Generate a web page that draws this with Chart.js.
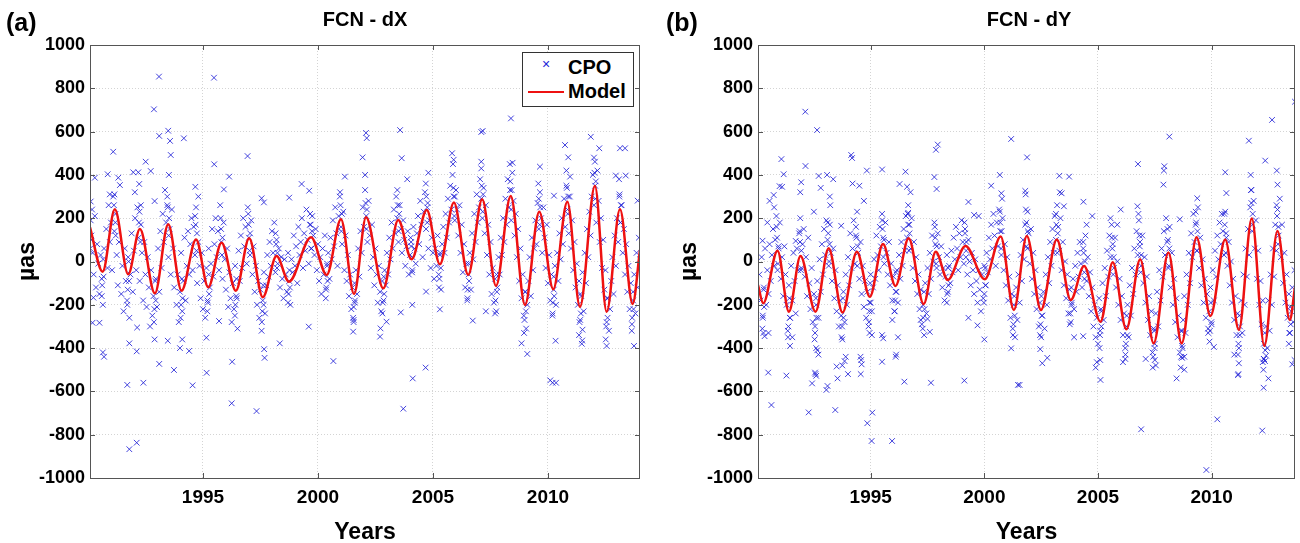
<!DOCTYPE html>
<html>
<head>
<meta charset="utf-8">
<script src="https://cdn.jsdelivr.net/npm/chart.js@4.4.1/dist/chart.umd.min.js"></script>
<style>
  body { margin: 0; background: #fff; width: 1300px; height: 543px; overflow: hidden; position: relative;
         font-family: "Liberation Sans", Arial, sans-serif; }
  canvas { position: absolute; top: 0; }
  .tag { position: absolute; top: 8px; font-weight: bold; font-size: 25px; }
  .title { position: absolute; top: 8px; font-weight: bold; font-size: 20px; transform: translateX(-50%); }
  .legend { position: absolute; left: 522px; top: 52px; width: 110px; height: 53px; border: 1px solid #333;
            background: #fff; font-weight: bold; font-size: 20px; }
  .legend div { position: absolute; left: 45px; }
  .mark { position: absolute; }
</style>
</head>
<body>
<canvas id="chartX" width="650" height="543" style="left:0"></canvas>
<canvas id="chartY" width="640" height="543" style="left:660px"></canvas>
<div class="tag" style="left:6px">(a)</div>
<div class="tag" style="left:666px">(b)</div>
<div class="title" style="left:365px">FCN - dX</div>
<div class="title" style="left:1029px">FCN - dY</div>
<div class="legend">
  <span class="mark" style="left:19px;top:3px;color:#2323d7;font-size:14px;font-weight:normal">&#215;</span>
  <div style="top:3px">CPO</div>
  <span class="mark" style="left:5px;top:38px;width:36px;border-top:2px solid #ee1111"></span>
  <div style="top:27px">Model</div>
</div>
<script>
// year ticks on the time axis
const yearTicks = [1995, 2000, 2005, 2010];

// FCN model, extremes [year, µas]
const dxModel = [
  [1990.09,158],[1990.64,-47],[1991.17,241],[1991.75,-59],[1992.26,150],[1992.91,-147],[1993.49,172],
  [1994.07,-135],[1994.70,102],[1995.23,-119],[1995.81,87],[1996.43,-135],[1997.01,107],[1997.60,-165],
  [1998.20,25],[1998.74,-93],[1999.70,112],[2000.38,-62],[2001.00,195],[2001.57,-150],[2002.09,204],
  [2002.84,-124],[2003.49,192],[2004.07,10],[2004.73,238],[2005.30,-13],[2005.91,272],[2006.53,-62],
  [2007.14,287],[2007.74,-113],[2008.38,303],[2009.00,-201],[2009.62,230],[2010.23,-128],[2010.84,276],
  [2011.39,-209],[2012.04,349],[2012.55,-232],[2013.13,241],[2013.68,-196],[2014.00,53]
];

// FCN model, extremes
const dyModel = [
  [1990.04,-109],[1990.27,-193],[1990.90,50],[1991.40,-232],[1991.91,25],[1992.57,-232],[1993.15,61],
  [1993.76,-236],[1994.39,45],[1994.96,-163],[1995.54,81],[1996.09,-113],[1996.67,107],[1997.33,-196],
  [1997.86,45],[1998.39,-85],[1999.17,72],[2000.02,-82],[2000.72,115],[2001.30,-224],[2001.87,118],
  [2002.49,-224],[2003.19,102],[2003.80,-178],[2004.39,-21],[2005.11,-278],[2005.65,-4],[2006.25,-313],
  [2006.86,10],[2007.45,-378],[2008.10,41],[2008.68,-378],[2009.34,112],[2009.95,-252],[2010.60,102],
  [2011.20,-316],[2011.77,199],[2012.32,-390],[2012.90,141],[2013.44,-270],[2013.67,-120]
];

const dxCpo = [
  [1990.15,120],[1990.2,40],[1990.25,-60],[1990.3,210],[1990.35,-120],[1990.4,80],[1990.45,-10],[1990.5,-150],[1990.55,30],[1990.6,-80],[1990.65,-200],[1990.7,60],
  [1990.8,150],[1990.85,-30],[1990.9,260],[1990.95,90],[1991.0,180],[1991.05,-40],[1991.1,300],[1991.15,140],[1991.2,220],[1991.25,30],[1991.3,-110],[1991.35,90],
  [1991.45,-150],[1991.5,-20],[1991.55,-230],[1991.6,60],[1991.65,-90],[1991.7,-180],[1991.75,20],[1991.8,-260],[1991.85,-60],[1991.9,130],[1991.95,-140],[1992.0,50],
  [1992.05,200],[1992.1,-40],[1992.15,250],[1992.2,110],[1992.25,-90],[1992.3,170],[1992.35,40],[1992.4,-180],[1992.45,90],[1992.5,-60],[1992.55,-210],[1992.6,20],
  [1992.65,-120],[1992.7,-300],[1992.75,-40],[1992.8,-250],[1992.85,-160],[1992.9,-360],[1992.95,-80],[1993.0,-210],[1993.05,60],[1993.1,-140],[1993.15,140],[1993.2,-30],
  [1993.25,220],[1993.3,90],[1993.35,330],[1993.4,180],[1993.45,260],[1993.5,20],[1993.52,400],[1993.55,150],[1993.6,-60],[1993.65,240],[1993.7,60],[1993.75,-120],
  [1993.85,-200],[1993.9,-60],[1993.95,-280],[1994.0,-140],[1994.05,40],[1994.1,-230],[1994.15,-90],[1994.2,110],[1994.25,-180],[1994.3,-20],[1994.35,140],[1994.4,-60],
  [1994.45,80],[1994.5,200],[1994.55,-40],[1994.6,160],[1994.65,30],[1994.7,250],[1994.75,-100],[1994.8,90],[1994.85,-20],[1994.9,-170],[1994.95,40],[1995.0,-220],
  [1995.05,-90],[1995.1,-260],[1995.15,-30],[1995.2,-180],[1995.25,60],[1995.3,-120],[1995.35,-10],[1995.4,150],[1995.45,-70],[1995.5,80],[1995.55,200],[1995.6,20],
  [1995.65,140],[1995.7,-40],[1995.75,260],[1995.8,90],[1995.85,-80],[1995.9,180],[1995.95,10],[1996.0,-130],[1996.05,60],[1996.1,-210],[1996.15,-50],[1996.2,-170],
  [1996.25,-280],[1996.3,-100],[1996.35,-220],[1996.4,-20],[1996.45,-160],[1996.5,-310],[1996.55,50],[1996.6,-90],[1996.65,120],[1996.7,-30],[1996.75,200],[1996.8,70],
  [1996.85,160],[1996.9,-10],[1996.95,250],[1997.0,110],[1997.05,30],[1997.1,190],[1997.15,-60],[1997.2,70],[1997.25,-140],[1997.3,-20],[1997.35,-200],[1997.4,-90],
  [1997.45,-260],[1997.5,-130],[1997.55,-320],[1997.6,-180],[1997.65,-50],[1997.7,-240],[1997.75,-110],[1997.8,30],[1997.85,-70],[1997.9,90],[1997.95,-20],[1998.0,140],
  [1998.05,40],[1998.1,180],[1998.15,-50],[1998.2,100],[1998.25,-10],[1998.3,60],[1998.35,-120],[1998.4,20],[1998.45,-80],[1998.5,-170],[1998.55,10],[1998.6,-60],
  [1998.65,-140],[1998.7,40],[1998.75,-90],[1998.8,-200],[1998.85,10],[1998.9,-50],[1998.95,120],[1999.0,-20],[1999.05,70],[1999.1,-100],[1999.15,160],[1999.2,30],
  [1999.25,90],[1999.3,200],[1999.35,-30],[1999.4,130],[1999.45,50],[1999.5,240],[1999.55,100],[1999.6,-10],[1999.65,170],[1999.7,60],[1999.75,210],[1999.8,120],
  [1999.85,30],[1999.9,150],[1999.95,-40],[2000.0,80],[2000.05,-90],[2000.1,20],[2000.15,-150],[2000.2,60],[2000.25,-60],[2000.3,120],[2000.35,-130],[2000.4,-20],
  [2000.45,40],[2000.5,-80],[2000.55,110],[2000.6,10],[2000.65,190],[2000.7,70],[2000.75,250],[2000.8,130],[2000.85,-20],[2000.9,210],[2000.95,300],[2001.0,160],
  [2001.05,80],[2001.1,230],[2001.15,-40],[2001.2,120],[2001.25,-90],[2001.3,30],[2001.35,-160],[2001.4,-60],[2001.45,-220],[2001.5,-120],[2001.55,-280],[2001.6,-190],
  [2001.65,-40],[2001.7,-150],[2001.75,60],[2001.8,-70],[2001.85,140],[2001.9,40],[2001.95,250],[2002.0,160],[2002.05,330],[2002.1,210],[2002.15,90],[2002.2,280],
  [2002.25,120],[2002.3,-30],[2002.35,170],[2002.4,20],[2002.45,-110],[2002.5,60],[2002.55,-60],[2002.6,-190],[2002.65,-20],[2002.7,-140],[2002.75,-230],[2002.8,-90],
  [2002.85,-180],[2002.9,-40],[2002.95,-110],[2003.0,40],[2003.05,-60],[2003.1,110],[2003.15,10],[2003.2,180],[2003.25,60],[2003.3,240],[2003.35,130],[2003.4,300],
  [2003.45,200],[2003.5,90],[2003.55,260],[2003.6,150],[2003.65,40],[2003.7,190],[2003.75,100],[2003.8,-20],[2003.85,70],[2003.9,140],[2003.95,-60],[2004.0,30],
  [2004.05,90],[2004.1,-40],[2004.15,160],[2004.2,60],[2004.25,-10],[2004.3,130],[2004.35,210],[2004.4,80],[2004.45,280],[2004.5,170],[2004.55,20],[2004.6,230],
  [2004.65,320],[2004.7,150],[2004.75,250],[2004.8,60],[2004.85,190],[2004.9,-30],[2004.95,110],[2005.0,40],[2005.05,-80],[2005.1,60],[2005.15,-20],[2005.2,120],
  [2005.25,-60],[2005.3,30],[2005.35,-130],[2005.4,80],[2005.45,160],[2005.5,40],[2005.55,220],[2005.6,110],[2005.65,290],[2005.7,180],[2005.75,350],[2005.8,240],
  [2005.85,400],[2005.9,300],[2005.95,190],[2006.0,330],[2006.05,240],[2006.1,120],[2006.15,260],[2006.2,40],[2006.25,170],[2006.3,-50],[2006.35,80],[2006.4,-120],
  [2006.45,-10],[2006.5,-170],[2006.55,-60],[2006.6,40],[2006.65,-130],[2006.7,130],[2006.75,10],[2006.8,220],[2006.85,90],[2006.9,310],[2006.95,180],[2007.0,250],
  [2007.05,380],[2007.1,290],[2007.15,200],[2007.2,340],[2007.25,130],[2007.3,260],[2007.35,30],[2007.4,170],[2007.45,-60],[2007.5,90],[2007.55,-150],[2007.6,-30],
  [2007.65,-190],[2007.7,-80],[2007.75,-230],[2007.8,-120],[2007.85,20],[2007.9,-60],[2007.95,110],[2008.0,30],[2008.05,200],[2008.1,90],[2008.15,290],[2008.2,170],
  [2008.25,380],[2008.3,250],[2008.35,330],[2008.4,190],[2008.45,410],[2008.5,280],[2008.55,120],[2008.6,220],[2008.65,20],[2008.7,150],[2008.75,-90],[2008.8,60],
  [2008.85,-170],[2008.9,-60],[2008.95,-250],[2009.0,-140],[2009.05,-310],[2009.1,-200],[2009.15,-90],[2009.2,20],[2009.25,-160],[2009.3,110],[2009.35,-40],[2009.4,60],
  [2009.45,190],[2009.5,80],[2009.55,270],[2009.6,150],[2009.65,320],[2009.7,200],[2009.75,40],[2009.8,250],[2009.85,110],[2009.9,-30],[2009.95,170],[2010.0,-100],
  [2010.05,30],[2010.1,-180],[2010.15,-60],[2010.2,-240],[2010.25,-130],[2010.3,-20],[2010.35,-200],[2010.4,40],[2010.45,-90],[2010.5,130],[2010.55,10],[2010.6,200],
  [2010.65,80],[2010.7,290],[2010.75,160],[2010.8,350],[2010.85,240],[2010.9,130],[2010.95,300],[2011.0,60],[2011.05,190],[2011.1,-40],[2011.15,90],[2011.2,-120],
  [2011.25,-10],[2011.3,-200],[2011.35,-90],[2011.4,-270],[2011.45,-160],[2011.5,-50],[2011.55,-230],[2011.6,40],[2011.65,-100],[2011.7,150],[2011.75,20],[2011.8,230],
  [2011.85,120],[2011.9,300],[2011.95,400],[2012.0,260],[2012.05,350],[2012.1,180],[2012.15,420],[2012.2,280],[2012.25,90],[2012.3,200],[2012.35,-30],[2012.4,100],
  [2012.45,-130],[2012.5,-40],[2012.55,-280],[2012.6,-170],[2012.65,-320],[2012.7,-220],[2012.75,-90],[2012.8,20],[2012.85,-150],[2012.9,120],[2012.95,-20],[2013.0,200],
  [2013.05,90],[2013.1,300],[2013.15,180],[2013.2,260],[2013.25,40],[2013.3,150],[2013.35,-60],[2013.4,80],[2013.45,-140],[2013.5,-20],[2013.55,-220],[2013.6,-100],
  [2013.65,-290],[2013.7,-180],[2013.75,-60],[2013.8,-240],[2013.85,40],[2013.9,-120],[2013.95,110],[2014.0,10],
  // scattered outliers
  [1993.09,854],[1995.48,849],[1992.87,703],[1993.1,580],[1993.49,604],[1993.57,557],[1993.6,492],[1994.17,569],
  [1991.1,507],[1992.51,461],[1992.73,418],[1991.97,412],[1992.19,412],[1990.86,403],[1990.3,387],[1991.32,387],
  [1995.49,449],[1996.94,487],[1996.14,392],[1995.91,333],[1994.67,345],[1999.29,358],[1999.62,327],[1998.75,295],
  [1997.55,292],[2001.17,392],[2001.94,481],[2002.09,594],[2002.12,570],[1991.39,353],[1992.04,320],[1992.23,358],
  [1990.95,310],[1990.12,277],[1992.9,279],[1994.8,300],[1997.65,273],
  [1991.8,-867],[1992.12,-837],[1991.71,-570],[1992.41,-560],[1993.1,-473],[1993.74,-501],[1994.55,-572],[1995.16,-514],
  [1996.25,-655],[1997.33,-691],[1996.27,-463],[1997.66,-405],[1997.68,-445],[1998.34,-378],[1999.6,-301],[2000.67,-460],
  [1990.65,-420],[1990.7,-440],[1991.8,-378],[1992.12,-415],[1992.14,-305],[1990.24,-167],[1990.2,-283],[1990.5,-283],
  [2001.53,-324],[2001.55,-270],[1993.47,-366],[1994.1,-360],[1994.4,-413],[1994.0,-400],[1995.15,-352],[1995.7,-275],
  [2003.71,-680],[2004.12,-540],[2004.68,-490],[2010.1,-549],[2010.2,-560],[2010.35,-560],[2009.1,-427],[2008.85,-378],
  [2010.33,-366],[2011.47,-380],[2011.49,-365],[2012.55,-390],[2013.74,-390],[2003.6,-235],[2004.1,-200],[2004.7,-139],
  [2005.3,-221],[2006.73,-273],[2007.3,-230],[2002.7,-347],[2002.72,-309],[2002.98,-278],[2011.5,-315],
  [2008.39,661],[2007.16,603],[2007.1,598],[2003.57,607],[2003.64,477],[2011.86,576],[2010.74,538],[2010.88,481],
  [2012.23,523],[2013.13,523],[2013.35,523],[2009.65,438],[2010.26,304],[2013.9,281],[2005.83,500],[2005.9,470],
  [2007.1,461],[2004.8,410],[2003.88,380],[2008.46,456],[2012.95,397],[2013.38,397],[2012.04,461],[2010.96,392]
];

// denser clusters of dX sessions around each swing
const dxCpoDense = [
  [1990.12,190],[1990.14,100],[1990.18,240],[1990.1,60],[1990.62,-110],[1990.66,10],[1990.6,-160],[1990.68,-70],
  [1991.15,310],[1991.19,180],[1991.13,260],[1991.21,120],[1991.73,-130],[1991.77,0],[1991.71,-200],[1991.79,-90],
  [1992.24,230],[1992.28,90],[1992.22,180],[1992.3,260],[1992.89,-220],[1992.93,-90],[1992.87,-280],[1992.95,-180],
  [1993.47,250],[1993.51,120],[1993.45,300],[1993.53,200],[1994.05,-200],[1994.09,-80],[1994.03,-260],[1994.11,-170],
  [1994.68,170],[1994.72,50],[1994.66,210],[1994.74,130],[1995.21,-190],[1995.25,-60],[1995.19,-230],[1995.27,-150],
  [1995.79,150],[1995.83,30],[1995.77,200],[1995.85,110],[1996.41,-200],[1996.45,-80],[1996.39,-250],[1996.47,-170],
  [1996.99,170],[1997.03,50],[1996.97,220],[1997.05,130],[1997.58,-230],[1997.62,-110],[1997.56,-280],[1997.64,-200],
  [1998.18,80],[1998.22,-30],[1998.16,130],[1998.24,40],[1998.72,-150],[1998.76,-40],[1998.7,-190],[1998.78,-120],
  [1999.68,170],[1999.72,60],[1999.66,220],[1999.74,140],[2000.36,-120],[2000.4,-10],[2000.34,-170],[2000.42,-90],
  [2000.98,260],[2001.02,140],[2000.96,320],[2001.04,220],[2001.55,-210],[2001.59,-100],[2001.53,-260],[2001.61,-180],
  [2002.07,270],[2002.11,150],[2002.05,400],[2002.13,240],[2002.82,-190],[2002.86,-70],[2002.8,-240],[2002.88,-150],
  [2003.47,260],[2003.51,140],[2003.45,330],[2003.53,220],[2004.05,70],[2004.09,-50],[2004.03,110],[2004.11,20],
  [2004.71,300],[2004.75,180],[2004.69,360],[2004.77,270],[2005.28,-80],[2005.32,40],[2005.26,-120],[2005.34,-30],
  [2005.89,340],[2005.93,210],[2005.87,450],[2005.95,300],[2006.51,-130],[2006.55,-10],[2006.49,-180],[2006.57,-90],
  [2007.12,350],[2007.16,230],[2007.1,430],[2007.18,310],[2007.72,-180],[2007.76,-60],[2007.7,-240],[2007.78,-140],
  [2008.36,370],[2008.4,240],[2008.34,450],[2008.42,330],[2008.98,-270],[2009.02,-140],[2008.96,-330],[2009.04,-230],
  [2009.6,290],[2009.64,170],[2009.58,360],[2009.66,250],[2010.21,-190],[2010.25,-70],[2010.19,-250],[2010.27,-160],
  [2010.82,340],[2010.86,220],[2010.8,420],[2010.88,300],[2011.37,-280],[2011.41,-150],[2011.35,-340],[2011.43,-240],
  [2012.02,410],[2012.06,290],[2012.0,480],[2012.08,370],[2012.53,-300],[2012.57,-170],[2012.51,-360],[2012.59,-260],
  [2013.11,310],[2013.15,180],[2013.09,380],[2013.17,260],[2013.66,-260],[2013.7,-140],[2013.64,-320],[2013.72,-220]
];

const dyCpo = [
  [1990.1,-60],[1990.15,-180],[1990.2,20],[1990.25,-250],[1990.3,-120],[1990.35,60],[1990.4,-200],[1990.45,-40],[1990.5,-150],[1990.55,80],[1990.6,-90],[1990.65,30],
  [1990.7,150],[1990.75,-20],[1990.8,100],[1990.85,210],[1990.9,-40],[1990.95,60],[1991.0,180],[1991.05,-80],[1991.1,20],[1991.15,-160],[1991.2,70],[1991.25,-60],
  [1991.3,-200],[1991.35,-320],[1991.4,-110],[1991.45,-260],[1991.5,-20],[1991.55,-180],[1991.6,40],[1991.65,-90],[1991.7,-240],[1991.75,60],[1991.8,-40],[1991.85,130],
  [1991.9,200],[1991.95,-30],[1992.0,80],[1992.05,150],[1992.1,-70],[1992.15,20],[1992.2,-160],[1992.25,110],[1992.3,-100],[1992.35,-220],[1992.4,-30],[1992.45,-280],
  [1992.5,-150],[1992.55,-330],[1992.6,-200],[1992.65,-90],[1992.7,-260],[1992.75,10],[1992.8,-140],[1992.85,80],[1992.9,-60],[1992.95,150],[1993.0,30],[1993.05,190],
  [1993.1,100],[1993.15,-20],[1993.2,170],[1993.25,40],[1993.3,-90],[1993.35,60],[1993.4,-170],[1993.45,-40],[1993.5,-230],[1993.55,-110],[1993.6,-300],[1993.65,-180],
  [1993.7,-250],[1993.75,-360],[1993.8,-140],[1993.85,-280],[1993.9,-60],[1993.95,-200],[1994.0,20],[1994.05,-110],[1994.1,130],[1994.15,-30],[1994.2,60],[1994.25,190],
  [1994.3,-10],[1994.35,120],[1994.4,230],[1994.45,40],[1994.5,-80],[1994.55,90],[1994.6,-150],[1994.65,-20],[1994.7,-210],[1994.75,-90],[1994.8,-260],[1994.85,-140],
  [1994.9,-300],[1994.95,-190],[1995.0,-60],[1995.05,-230],[1995.1,-120],[1995.15,10],[1995.2,-80],[1995.25,120],[1995.3,30],[1995.35,-40],[1995.4,160],[1995.45,70],
  [1995.5,220],[1995.55,110],[1995.6,-10],[1995.65,180],[1995.7,40],[1995.75,-60],[1995.8,90],[1995.85,-110],[1995.9,-10],[1995.95,-180],[1996.0,-70],[1996.05,-230],
  [1996.1,-140],[1996.15,-40],[1996.2,-190],[1996.25,30],[1996.3,-80],[1996.35,90],[1996.4,-20],[1996.45,150],[1996.5,50],[1996.55,210],[1996.6,110],[1996.65,260],
  [1996.7,170],[1996.75,60],[1996.8,200],[1996.85,-30],[1996.9,90],[1996.95,-90],[1997.0,20],[1997.05,-150],[1997.1,-60],[1997.15,-220],[1997.2,-130],[1997.25,-290],
  [1997.3,-200],[1997.35,-340],[1997.4,-100],[1997.45,-240],[1997.5,-30],[1997.55,-150],[1997.6,40],[1997.65,-80],[1997.7,120],[1997.75,0],[1997.8,180],[1997.85,80],
  [1997.9,-30],[1997.95,130],[1998.0,20],[1998.05,-60],[1998.1,70],[1998.15,-120],[1998.2,-30],[1998.25,-180],[1998.3,-70],[1998.35,30],[1998.4,-140],[1998.45,-20],
  [1998.5,-100],[1998.55,50],[1998.6,-50],[1998.65,110],[1998.7,10],[1998.75,160],[1998.8,60],[1998.85,-40],[1998.9,130],[1998.95,20],[1999.0,190],[1999.05,90],
  [1999.1,-10],[1999.15,150],[1999.2,50],[1999.25,-60],[1999.3,100],[1999.35,0],[1999.4,-110],[1999.45,40],[1999.5,-40],[1999.55,-150],[1999.6,10],[1999.65,-90],
  [1999.7,-190],[1999.75,-40],[1999.8,-130],[1999.85,-230],[1999.9,-60],[1999.95,-170],[2000.0,-20],[2000.05,-110],[2000.1,40],[2000.15,-50],[2000.2,110],[2000.25,10],
  [2000.3,170],[2000.35,60],[2000.4,220],[2000.45,120],[2000.5,-20],[2000.55,180],[2000.6,70],[2000.65,240],[2000.7,140],[2000.75,30],[2000.8,200],[2000.85,-40],
  [2000.9,80],[2000.95,-110],[2001.0,20],[2001.05,-180],[2001.1,-70],[2001.15,-260],[2001.2,-150],[2001.25,-310],[2001.3,-200],[2001.35,-350],[2001.4,-120],[2001.45,-270],
  [2001.5,-60],[2001.55,-190],[2001.6,30],[2001.65,-90],[2001.7,100],[2001.75,10],[2001.8,170],[2001.85,70],[2001.9,230],[2001.95,130],[2002.0,-10],[2002.05,150],
  [2002.1,-80],[2002.15,40],[2002.2,-150],[2002.25,-40],[2002.3,-220],[2002.35,-120],[2002.4,-300],[2002.45,-190],[2002.5,-350],[2002.55,-250],[2002.6,-140],[2002.65,-310],
  [2002.7,-60],[2002.75,-200],[2002.8,20],[2002.85,-100],[2002.9,90],[2002.95,-20],[2003.0,150],[2003.05,40],[2003.1,210],[2003.15,100],[2003.2,260],[2003.25,160],
  [2003.3,50],[2003.35,200],[2003.4,-40],[2003.45,90],[2003.5,-110],[2003.55,0],[2003.6,-170],[2003.65,-60],[2003.7,-240],[2003.75,-130],[2003.8,-280],[2003.85,-190],
  [2003.9,-80],[2003.95,-220],[2004.0,-20],[2004.05,-140],[2004.1,40],[2004.15,-70],[2004.2,90],[2004.25,-10],[2004.3,-120],[2004.35,60],[2004.4,-50],[2004.45,120],
  [2004.5,-90],[2004.55,20],[2004.6,-160],[2004.65,-50],[2004.7,-230],[2004.75,-120],[2004.8,-300],[2004.85,-200],[2004.9,-350],[2004.95,-260],[2005.0,-380],[2005.05,-170],
  [2005.1,-320],[2005.15,-230],[2005.2,-100],[2005.25,-270],[2005.3,-30],[2005.35,-160],[2005.4,50],[2005.45,-70],[2005.5,120],[2005.55,20],[2005.6,170],[2005.65,80],
  [2005.7,-30],[2005.75,110],[2005.8,-120],[2005.85,0],[2005.9,-200],[2005.95,-80],[2006.0,-270],[2006.05,-160],[2006.1,-340],[2006.15,-240],[2006.2,-400],[2006.25,-300],
  [2006.3,-200],[2006.35,-350],[2006.4,-110],[2006.45,-250],[2006.5,-30],[2006.55,-150],[2006.6,60],[2006.65,-60],[2006.7,140],[2006.75,30],[2006.8,190],[2006.85,90],
  [2006.9,-20],[2006.95,120],[2007.0,-100],[2007.05,20],[2007.1,-190],[2007.15,-70],[2007.2,-270],[2007.25,-160],[2007.3,-340],[2007.35,-230],[2007.4,-420],[2007.45,-310],
  [2007.5,-380],[2007.55,-240],[2007.6,-140],[2007.65,-300],[2007.7,-40],[2007.75,-180],[2007.8,60],[2007.85,-70],[2007.9,140],[2007.95,30],[2008.0,200],[2008.05,90],
  [2008.1,-30],[2008.15,160],[2008.2,-120],[2008.25,40],[2008.3,-200],[2008.35,-80],[2008.4,-280],[2008.45,-170],[2008.5,-350],[2008.55,-250],[2008.6,-420],[2008.65,-320],
  [2008.7,-390],[2008.75,-270],[2008.8,-160],[2008.85,-330],[2008.9,-60],[2008.95,-200],[2009.0,40],[2009.05,-100],[2009.1,130],[2009.15,20],[2009.2,220],[2009.25,90],
  [2009.3,170],[2009.35,50],[2009.4,250],[2009.45,-30],[2009.5,110],[2009.55,-110],[2009.6,10],[2009.65,-190],[2009.7,-80],[2009.75,-260],[2009.8,-150],[2009.85,-310],
  [2009.9,-230],[2009.95,-120],[2010.0,-290],[2010.05,-40],[2010.1,-180],[2010.15,50],[2010.2,-70],[2010.25,120],[2010.3,10],[2010.35,180],[2010.4,80],[2010.45,220],
  [2010.5,140],[2010.55,30],[2010.6,230],[2010.65,110],[2010.7,-20],[2010.75,90],[2010.8,-110],[2010.85,0],[2010.9,-190],[2010.95,-80],[2011.0,-270],[2011.05,-160],
  [2011.1,-340],[2011.15,-240],[2011.2,-400],[2011.25,-300],[2011.3,-180],[2011.35,-330],[2011.4,-60],[2011.45,-200],[2011.5,60],[2011.55,-70],[2011.6,150],[2011.65,30],
  [2011.7,250],[2011.75,330],[2011.8,170],[2011.85,280],[2011.9,60],[2011.95,190],[2012.0,-80],[2012.05,50],[2012.1,-200],[2012.15,-90],[2012.2,-290],[2012.25,-180],
  [2012.3,-380],[2012.35,-460],[2012.4,-300],[2012.45,-400],[2012.5,-180],[2012.55,-320],[2012.6,-60],[2012.65,-200],[2012.7,60],[2012.75,-70],[2012.8,170],[2012.85,50],
  [2012.9,240],[2012.95,120],[2013.0,290],[2013.05,20],[2013.1,170],[2013.15,-100],[2013.2,40],[2013.25,-190],[2013.3,-60],[2013.35,-260],[2013.4,-150],[2013.45,-330],
  [2013.5,-230],[2013.55,-120],[2013.6,-280],[2013.65,-40],[2013.7,-180],
  // scattered outliers
  [1992.12,692],[1992.64,607],[1991.07,473],[1991.17,403],[1990.99,348],[1991.1,345],[1990.73,307],[1990.75,250],
  [1990.55,280],[1992.13,441],[1991.94,366],[1991.9,320],[1992.71,395],[1992.8,340],[1993.08,400],[1993.35,380],
  [1993.2,300],[1993.22,260],[1994.14,492],[1994.18,478],[1994.2,360],[1994.5,350],[1994.83,420],[1994.7,280],
  [1995.5,425],[1996.27,358],[1996.53,415],[1996.6,345],[1996.75,320],[1997.87,516],[1997.95,540],[1997.8,390],
  [1997.9,335],[1999.3,275],[2001.18,566],[2000.68,400],[2000.75,315],[2000.78,290],[2000.3,350],[1999.55,215],
  [1999.75,210],[1990.24,96],[1990.45,180],[1991.7,95],[1992.5,230],[1993.7,165],[1996.65,225],
  [2001.88,481],[2001.8,326],[2001.82,310],[2003.3,396],[2003.73,392],[2003.4,315],[2003.5,255],[2004.36,276],
  [2006.76,450],[2006.74,255],[2006.78,220],[2008.14,577],[2007.9,420],[2007.92,440],[2007.88,355],[2008.6,195],
  [2009.37,292],[2010.6,412],[2010.65,316],[2011.64,558],[2012.66,654],[2012.36,466],[2012.87,420],[2012.9,355],
  [2011.72,400],[2013.67,738],[2004.5,170],[2004.75,210],[2005.55,200],[2005.85,170],[2006.0,240],[2003.32,320],
  [1995.04,-829],[1995.94,-829],[1994.85,-747],[1995.07,-698],[1990.63,-663],[1992.27,-697],[1993.44,-686],
  [1993.05,-593],[1993.1,-575],[1992.42,-563],[1992.55,-513],[1992.57,-520],[1992.6,-528],[1990.49,-513],
  [1991.29,-527],[1993.54,-540],[1994.0,-520],[1994.56,-520],[1993.5,-485],[1993.75,-480],[1993.85,-460],
  [1993.9,-440],[1994.55,-440],[1994.58,-455],[1994.6,-475],[1995.5,-463],[1996.1,-440],[1996.48,-555],
  [1997.65,-560],[1999.12,-550],[2000.0,-360],[1999.7,-295],[1999.3,-260],[1997.6,-325],[1997.2,-270],
  [1997.5,-265],[1995.95,-270],[1996.2,-350],[1996.12,-430],[1992.6,-400],[1992.65,-410],[1992.7,-430],
  [1991.45,-390],[1991.55,-350],[1990.28,-330],[1990.33,-345],[1990.5,-330],[2001.18,-401],[2001.48,-570],
  [1995.5,-340],[1995.55,-355],[1994.95,-330],[1995.05,-340],
  [2009.77,-963],[2006.9,-775],[2012.23,-781],[2010.25,-729],[2001.55,-570],[2005.11,-547],[2008.46,-540],
  [2012.29,-583],[2011.16,-525],[2011.18,-520],[2012.5,-540],[2008.8,-500],[2004.9,-490],[2004.95,-465],
  [2005.1,-455],[2006.1,-465],[2006.2,-450],[2007.55,-480],[2007.5,-455],[2007.1,-450],[2008.7,-445],
  [2008.8,-440],[2011.2,-470],[2011.0,-430],[2012.25,-465],[2012.3,-450],[2012.4,-435],[2013.55,-475],
  [2013.65,-455],[2002.55,-470],[2002.77,-445],[2002.46,-405],[2003.95,-350],[2004.35,-345],[2010.1,-395],[2009.85,-330]
];

// denser clusters of dY sessions around each swing
const dyCpoDense = [
  [1990.25,-260],[1990.29,-130],[1990.23,-310],[1990.31,-210],[1990.88,110],[1990.92,-10],[1990.86,160],[1990.94,70],
  [1991.38,-300],[1991.42,-170],[1991.36,-350],[1991.44,-260],[1991.89,90],[1991.93,-40],[1991.87,140],[1991.95,50],
  [1992.55,-300],[1992.59,-170],[1992.53,-360],[1992.61,-260],[1993.13,130],[1993.17,0],[1993.11,180],[1993.19,80],
  [1993.74,-300],[1993.78,-170],[1993.72,-350],[1993.8,-260],[1994.37,110],[1994.41,-20],[1994.35,160],[1994.43,70],
  [1994.94,-230],[1994.98,-100],[1994.92,-280],[1995.0,-190],[1995.52,150],[1995.56,20],[1995.5,190],[1995.58,100],
  [1996.07,-180],[1996.11,-50],[1996.05,-230],[1996.13,-140],[1996.65,170],[1996.69,50],[1996.63,220],[1996.71,130],
  [1997.31,-260],[1997.35,-140],[1997.29,-310],[1997.37,-220],[1997.84,110],[1997.88,-10],[1997.82,160],[1997.9,70],
  [1998.37,-150],[1998.41,-30],[1998.35,-190],[1998.43,-110],[1999.15,130],[1999.19,20],[1999.13,180],[1999.21,90],
  [2000.0,-150],[2000.04,-30],[1999.98,-190],[2000.06,-110],[2000.7,180],[2000.74,60],[2000.68,230],[2000.76,140],
  [2001.28,-290],[2001.32,-160],[2001.26,-340],[2001.34,-250],[2001.85,180],[2001.89,60],[2001.83,240],[2001.91,140],
  [2002.47,-290],[2002.51,-160],[2002.45,-340],[2002.53,-250],[2003.17,170],[2003.21,40],[2003.15,220],[2003.23,130],
  [2003.78,-240],[2003.82,-120],[2003.76,-290],[2003.84,-200],[2004.37,40],[2004.41,-80],[2004.35,90],[2004.43,0],
  [2005.09,-340],[2005.13,-220],[2005.07,-400],[2005.15,-300],[2005.63,60],[2005.67,-60],[2005.61,110],[2005.69,20],
  [2006.23,-380],[2006.27,-250],[2006.21,-430],[2006.29,-340],[2006.84,70],[2006.88,-50],[2006.82,120],[2006.9,30],
  [2007.43,-440],[2007.47,-320],[2007.41,-490],[2007.49,-400],[2008.08,100],[2008.12,-20],[2008.06,150],[2008.14,60],
  [2008.66,-440],[2008.7,-320],[2008.64,-490],[2008.72,-400],[2009.32,180],[2009.36,50],[2009.3,230],[2009.38,140],
  [2009.93,-320],[2009.97,-190],[2009.91,-370],[2009.99,-280],[2010.58,170],[2010.62,40],[2010.56,220],[2010.64,130],
  [2011.18,-380],[2011.22,-250],[2011.16,-430],[2011.24,-340],[2011.75,270],[2011.79,140],[2011.73,330],[2011.81,220],
  [2012.3,-450],[2012.34,-330],[2012.28,-500],[2012.36,-410],[2012.88,210],[2012.92,80],[2012.86,260],[2012.94,160],
  [2013.42,-330],[2013.46,-210],[2013.4,-380],[2013.48,-290]
];

const FONT = '"Liberation Sans", Arial, sans-serif';

// matlab-like box with inward tick marks
const boxPlugin = {
  id: 'box',
  afterDraw(chart) {
    const { ctx, chartArea: a, scales: { x, y } } = chart;
    ctx.save();
    ctx.strokeStyle = '#555';
    ctx.lineWidth = 1;
    ctx.strokeRect(a.left + 0.5, a.top + 0.5, a.right - a.left - 1, a.bottom - a.top);
    ctx.beginPath();
    x.ticks.forEach(t => {
      const px = Math.round(x.getPixelForValue(t.value)) + 0.5;
      ctx.moveTo(px, a.top); ctx.lineTo(px, a.top + 5);
      ctx.moveTo(px, a.bottom); ctx.lineTo(px, a.bottom - 5);
    });
    y.ticks.forEach(t => {
      const py = Math.round(y.getPixelForValue(t.value)) + 0.5;
      ctx.moveTo(a.left, py); ctx.lineTo(a.left + 5, py);
      ctx.moveTo(a.right, py); ctx.lineTo(a.right - 5, py);
    });
    ctx.stroke();
    ctx.restore();
  }
};

function toXY(list) {
  return list.map(p => ({ x: p[0], y: p[1] }));
}

function makePanel(id, cpo, model, xMin, xMax, axisWidth, titlePad, rightPad) {
  new Chart(document.getElementById(id), {
    type: 'scatter',
    data: {
      datasets: [{
        label: 'Model',
        data: toXY(model),
        showLine: true,
        borderColor: '#ee1111',
        borderWidth: 2.5,
        pointRadius: 0,
        cubicInterpolationMode: 'monotone',
        order: 0
      }, {
        label: 'CPO',
        data: toXY(cpo),
        pointStyle: 'crossRot',
        pointRadius: 4,
        borderWidth: 1,
        borderColor: 'rgba(35,35,215,0.85)',
        backgroundColor: 'rgba(35,35,215,0.85)',
        order: 1
      }]
    },
    options: {
      responsive: false,
      animation: false,
      layout: { padding: { top: 45, right: rightPad, left: 0, bottom: 0 } },
      plugins: { legend: { display: false }, tooltip: { enabled: false } },
      scales: {
        x: {
          type: 'linear',
          min: xMin,
          max: xMax,
          afterBuildTicks: s => { s.ticks = yearTicks.map(v => ({ value: v })); },
          afterFit: s => { s.height = 65; },
          grid: { color: '#d4d4d4', drawTicks: false },
          border: { display: false, dash: [1, 2] },
          ticks: { color: '#000', padding: 8, font: { family: FONT, size: 19, weight: 'bold' }, callback: v => String(v) },
          title: { display: true, text: 'Years', color: '#000', padding: { top: 0, bottom: -3 }, font: { family: FONT, size: 23, weight: 'bold' } }
        },
        y: {
          min: -1000,
          max: 1000,
          afterFit: s => { s.width = axisWidth; },
          grid: { color: '#d4d4d4', drawTicks: false },
          border: { display: false, dash: [1, 2] },
          ticks: { stepSize: 200, color: '#000', padding: 5, font: { family: FONT, size: 18, weight: 'bold' }, callback: v => String(v) },
          title: { display: true, text: 'µas', color: '#000', padding: { top: titlePad, bottom: 0 }, font: { family: FONT, size: 23, weight: 'bold' } }
        }
      }
    },
    plugins: [boxPlugin]
  });
}

makePanel('chartX', dxCpo.concat(dxCpoDense), dxModel, 1990.09, 2014.0, 90, 14, 10);
makePanel('chartY', dyCpo.concat(dyCpoDense), dyModel, 1990.04, 2013.67, 98, 16, 0);
</script>
</body>
</html>
